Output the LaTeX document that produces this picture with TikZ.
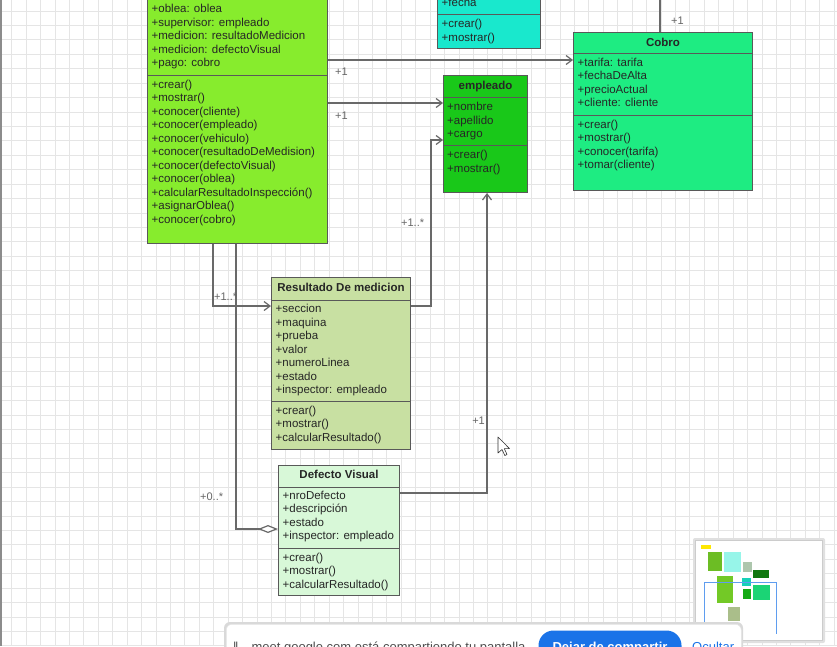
\documentclass[tikz,border=0pt]{standalone}
\usepackage{fontspec}
\setmainfont{Liberation Sans}
\usetikzlibrary{arrows.meta}

\begin{document}
\begin{tikzpicture}[x=1pt, y=-1pt, >=Stealth]
  % screen area, no outer margin
  \useasboundingbox (0,0) rectangle (837,646);
  \clip (0,0) rectangle (837,646);

  % ==========================================
  % 1. COLORS & STYLES
  % ==========================================
  \definecolor{limeBase}{RGB}{135,236,45}      % inspeccion
  \definecolor{cyanBase}{RGB}{25,232,205}      % fecha class
  \definecolor{cobroBase}{RGB}{30,236,130}     % cobro
  \definecolor{empleadoBase}{RGB}{25,200,25}   % empleado
  \definecolor{resultadoBase}{RGB}{200,224,162}
  \definecolor{defectoBase}{RGB}{216,248,216}
  \definecolor{edgeGray}{RGB}{105,105,105}
  \definecolor{gridGray}{RGB}{229,229,229}
  \definecolor{meetBlue}{RGB}{26,115,232}

  \tikzset{
    classbox/.style={draw=black!65, line width=1pt, anchor=north west, inner sep=0pt},
    member/.style={anchor=west, inner sep=0pt, text=black!85,
      font=\fontsize{11.5}{13.5}\selectfont, text height=8.5pt, text depth=2.5pt},
    classtitle/.style={member, anchor=center, font=\fontsize{11.5}{13.5}\selectfont\bfseries},
    divider/.style={draw=black!65, line width=1pt},
    assoc/.style={draw=edgeGray, line width=1.2pt, -{Straight Barb[length=6pt, width=9pt]}},
    aggr/.style={draw=edgeGray, line width=1.2pt, -{Diamond[fill=white, length=20pt, width=8pt]}},
    multip/.style={anchor=west, inner sep=0pt, text=black!60, font=\fontsize{11}{13}\selectfont}
  }

  % ==========================================
  % 2. CANVAS GRID
  % ==========================================
  \fill[white] (0,0) rectangle (837,646);
  \foreach \k in {0,...,58} {
    \draw[gridGray, line width=0.9pt] ({11.7+14.43*\k},0) -- ++(0,646);
  }
  \foreach \k in {0,...,45} {
    \draw[gridGray, line width=0.9pt] (0,{11+14.43*\k}) -- ++(837,0);
  }
  \draw[black!45, line width=1.5pt] (1,0) -- (1,646);

  % ==========================================
  % 3. CLASS BOXES
  % ==========================================
  \node[classbox, fill=limeBase, minimum width=180pt, minimum height=443pt] (inspeccion) at (147,-200) {};
  \node[classbox, fill=cyanBase, minimum width=103pt, minimum height=148pt] (fecha) at (437,-100) {};
  \node[classbox, fill=cobroBase, minimum width=179pt, minimum height=158pt] (cobro) at (573,32) {};
  \node[classbox, fill=empleadoBase, minimum width=84pt, minimum height=117pt] (empleado) at (443,75) {};
  \node[classbox, fill=resultadoBase, minimum width=139pt, minimum height=172pt] (resultado) at (271,277) {};
  \node[classbox, fill=defectoBase, minimum width=121pt, minimum height=130pt] (defecto) at (278,465) {};

  % --- inspeccion ---
  \draw[divider] (inspeccion.west |- 0,75) -- (inspeccion.east |- 0,75);
  \foreach \t [count=\i from 0] in {+oblea: oblea, +supervisor: empleado,
      +medicion: resultadoMedicion, +medicion: defectoVisual, +pago: cobro} {
    \node[member] (inspA\i) at (151.5,{9.5+13.5*\i}) {\t};
  }
  \foreach \t [count=\i from 0] in {+crear(), +mostrar(), +conocer(cliente),
      +conocer(empleado), +conocer(vehiculo), +conocer(resultadoDeMedision),
      +conocer(defectoVisual), +conocer(oblea), +calcularResultadoInspección(),
      +asignarOblea(), +conocer(cobro)} {
    \node[member] (inspM\i) at (151.5,{85+13.5*\i}) {\t};
  }

  % --- fecha ---
  \node[member] (fechaA0) at (441.5,3.5) {+fecha};
  \draw[divider] (fecha.west |- 0,14.5) -- (fecha.east |- 0,14.5);
  \foreach \t [count=\i from 0] in {+crear(), +mostrar()} {
    \node[member] (fechaM\i) at (441.5,{24.5+13.5*\i}) {\t};
  }

  % --- cobro ---
  \node[classtitle] (cobroT) at (cobro.north |- 0,43) {Cobro};
  \draw[divider] (cobro.west |- 0,53.5) -- (cobro.east |- 0,53.5);
  \foreach \t [count=\i from 0] in {+tarifa: tarifa, +fechaDeAlta, +precioActual, +cliente: cliente} {
    \node[member] (cobroA\i) at (577.5,{63+13.5*\i}) {\t};
  }
  \draw[divider] (cobro.west |- 0,115.5) -- (cobro.east |- 0,115.5);
  \foreach \t [count=\i from 0] in {+crear(), +mostrar(), +conocer(tarifa), +tomar(cliente)} {
    \node[member] (cobroM\i) at (577.5,{125+13.5*\i}) {\t};
  }

  % --- empleado ---
  \node[classtitle] (empleadoT) at (empleado.north |- 0,86) {empleado};
  \draw[divider] (empleado.west |- 0,97) -- (empleado.east |- 0,97);
  \foreach \t [count=\i from 0] in {+nombre, +apellido, +cargo} {
    \node[member] (empleadoA\i) at (447,{107.5+13.5*\i}) {\t};
  }
  \draw[divider] (empleado.west |- 0,145.5) -- (empleado.east |- 0,145.5);
  \foreach \t [count=\i from 0] in {+crear(), +mostrar()} {
    \node[member] (empleadoM\i) at (447,{155.5+13.5*\i}) {\t};
  }

  % --- resultado de medicion ---
  \node[classtitle] (resultadoT) at (resultado.north |- 0,288.5) {Resultado De medicion};
  \draw[divider] (resultado.west |- 0,300) -- (resultado.east |- 0,300);
  \foreach \t [count=\i from 0] in {+seccion, +maquina, +prueba, +valor,
      +numeroLinea, +estado, +inspector: empleado} {
    \node[member] (resultadoA\i) at (275.5,{309.5+13.5*\i}) {\t};
  }
  \draw[divider] (resultado.west |- 0,401.5) -- (resultado.east |- 0,401.5);
  \foreach \t [count=\i from 0] in {+crear(), +mostrar(), +calcularResultado()} {
    \node[member] (resultadoM\i) at (275.5,{411+13.5*\i}) {\t};
  }

  % --- defecto visual ---
  \node[classtitle] (defectoT) at (defecto.north |- 0,475.5) {Defecto Visual};
  \draw[divider] (defecto.west |- 0,487) -- (defecto.east |- 0,487);
  \foreach \t [count=\i from 0] in {+nroDefecto, +descripción, +estado, +inspector: empleado} {
    \node[member] (defectoA\i) at (282.5,{496+13.5*\i}) {\t};
  }
  \draw[divider] (defecto.west |- 0,548.5) -- (defecto.east |- 0,548.5);
  \foreach \t [count=\i from 0] in {+crear(), +mostrar(), +calcularResultado()} {
    \node[member] (defectoM\i) at (282.5,{558+13.5*\i}) {\t};
  }

  % ==========================================
  % 4. ASSOCIATIONS
  % ==========================================
  \draw[assoc] (inspeccion.east |- 0,60) -- (cobro.west |- 0,60);
  \draw[assoc] (inspeccion.east |- 0,103) -- (empleado.west |- 0,103);
  \draw[assoc] (resultado.east |- 0,306) -- (431,306) -- (431,140) -- (empleado.west |- 0,140);
  \draw[assoc] (defecto.east |- 0,493) -| (empleado.south -| 487,0);
  \draw[assoc] (inspeccion.south -| 213,0) |- (resultado.west |- 0,306);
  \draw[aggr] (inspeccion.south -| 236,0) |- (defecto.west |- 0,529);

  \coordinate (cobroUp) at (660,-10);
  \draw[edgeGray, line width=1.2pt] (cobro.north -| cobroUp) -- (cobroUp);

  % multiplicities
  \node[multip] (multCobro) at (335,72) {+1};
  \node[multip] (multEmp) at (335,116) {+1};
  \node[multip] (multRes) at (401,223) {+1..*};
  \node[multip, anchor=east] (multDef) at (485,421) {+1};
  \node[multip] (multMed) at (214,297) {+1..*};
  \node[multip] (multVis) at (200,497) {+0..*};
  \node[multip] (multTop) at (671,21) {+1};

  % mouse pointer
  \draw[fill=white, draw=black!80, line width=0.6pt, line join=round]
    (498,437) -- (498,453) -- (502,449.5) -- (504.8,455.5) -- (507,454.5)
    -- (504.3,448.6) -- (509.5,448.6) -- cycle;

  % ==========================================
  % 5. OUTLINE (minimap)
  % ==========================================
  \fill[black!12, rounded corners=2pt] (693,538) rectangle (825,643);
  \node[classbox, draw=black!20, fill=white, line width=0.6pt, minimum width=127pt,
    minimum height=100pt] (minimap) at (695,540) {};
  \fill[yellow!90!orange] (701,545) rectangle (710.5,549);
  \fill[limeBase!80!black] (708,552) rectangle (721.5,571);
  \fill[cyanBase!45] (724,552) rectangle (741,572);
  \fill[defectoBase!80!black] (742.5,562) rectangle (751.5,572);
  \fill[empleadoBase!60!black] (753,570) rectangle (769,578);
  \fill[limeBase!85!black] (716.5,576) rectangle (733,603);
  \fill[cyanBase!90!black] (742,578) rectangle (751,586);
  \fill[empleadoBase!85!black] (743,589) rectangle (750.5,599);
  \fill[cobroBase!90!black] (753,585) rectangle (770,600);
  \fill[resultadoBase!85!black] (728,607) rectangle (740,621);
  \draw[meetBlue!70, line width=0.8pt] (704,634) |- (776,582) -- (776,634);

  % ==========================================
  % 6. SCREEN SHARING BAR
  % ==========================================
  \fill[black!15, rounded corners=6pt] (224,622) rectangle (743,690);
  \node[classbox, draw=black!10, fill=white, line width=0.5pt, rounded corners=6pt,
    minimum width=515pt, minimum height=60pt] (shareBar) at (226,624) {};
  \node[anchor=base west, inner sep=0pt, text=black!70, font=\fontsize{13}{15}\selectfont]
    (shareText) at (233,651) {‖\quad meet.google.com está compartiendo tu pantalla};
  \node[classbox, draw=none, fill=meetBlue, rounded corners=15pt, minimum width=143pt,
    minimum height=40pt] (stopBtn) at (538,630) {};
  \node[anchor=base, inner sep=0pt, text=white, font=\fontsize{13}{15}\selectfont\bfseries]
    (stopText) at (stopBtn.center |- 0,651) {Dejar de compartir};
  \node[anchor=base west, inner sep=0pt, text=meetBlue, font=\fontsize{13}{15}\selectfont]
    (hideText) at (692,651) {Ocultar};

\end{tikzpicture}
\end{document}
